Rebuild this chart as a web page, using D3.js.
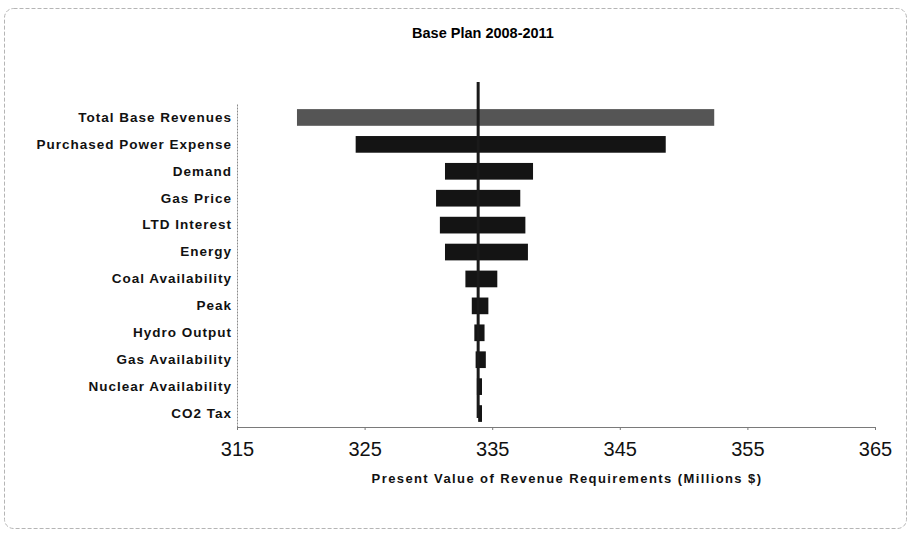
<!DOCTYPE html>
<html>
<head>
<meta charset="utf-8">
<script src="https://cdn.jsdelivr.net/npm/d3@7/dist/d3.min.js"></script>
<style>
  html, body { margin: 0; padding: 0; background: #fff; }
  svg { display: block; font-family: "Liberation Sans", Arial, sans-serif; }
</style>
</head>
<body>
<svg id="chart" width="910" height="535"></svg>
<script>
// Sensitivity factors, ordered from largest swing to smallest
const categories = [
  "Total Base Revenues", "Purchased Power Expense", "Demand", "Gas Price",
  "LTD Interest", "Energy", "Coal Availability", "Peak", "Hydro Output",
  "Gas Availability", "Nuclear Availability", "CO2 Tax"
];
// Present value of revenue requirements (millions $) at the low and high ends of each factor
const lowValues  = [319.7, 324.3, 331.3, 330.6, 330.9, 331.3, 332.9, 333.4, 333.6, 333.7, 333.8, 333.9];
const highValues = [352.4, 348.6, 338.2, 337.2, 337.6, 337.8, 335.4, 334.7, 334.4, 334.5, 334.2, 334.2];
const baseValue = 333.9;
const xTicks = [315, 325, 335, 345, 355, 365];

const rows = categories.map((c, i) => ({ name: c, low: lowValues[i], high: highValues[i] }));

const svg = d3.select("#chart");

// Chart-area frame
svg.append("rect")
  .attr("x", 4.5).attr("y", 8.5)
  .attr("width", 902).attr("height", 520)
  .attr("rx", 9)
  .attr("fill", "none")
  .attr("stroke", "#b5b5b5")
  .attr("stroke-dasharray", "4,2")
  .attr("stroke-width", 1);

const plot = { left: 237, right: 875, top: 104, bottom: 427 };

const x = d3.scaleLinear().domain([315, 365]).range([plot.left, plot.right]);
const y = d3.scaleBand().domain(categories).range([plot.top, plot.bottom]).paddingInner(0.38).paddingOuter(0.19);

// Title
svg.append("text")
  .attr("x", 483).attr("y", 38)
  .attr("text-anchor", "middle")
  .attr("font-size", 14.5).attr("font-weight", "bold")
  .text("Base Plan 2008-2011");

// Bars
svg.append("g").selectAll("rect")
  .data(rows)
  .join("rect")
  .attr("x", d => x(d.low))
  .attr("y", d => y(d.name))
  .attr("width", d => x(d.high) - x(d.low))
  .attr("height", y.bandwidth())
  .attr("fill", (d, i) => i === 0 ? "#555555" : "#141414");

// Base-case line
svg.append("line")
  .attr("x1", x(baseValue)).attr("x2", x(baseValue))
  .attr("y1", 82).attr("y2", 418)
  .attr("stroke", "#1a1a1a")
  .attr("stroke-width", 3);

// Category axis
const yAxis = svg.append("g")
  .attr("transform", `translate(${plot.left},0)`)
  .call(d3.axisLeft(y).tickSize(0).tickPadding(5));
yAxis.select(".domain").attr("stroke", "#8a8a8a").attr("stroke-dasharray", "2,1");
yAxis.selectAll("text")
  .attr("font-size", 13.5).attr("font-weight", "bold")
  .attr("letter-spacing", 1.0)
  .attr("fill", "#111")
  .attr("font-family", "'Liberation Sans', Arial, sans-serif");

// Value axis
const xAxis = svg.append("g")
  .attr("transform", `translate(0,${plot.bottom})`)
  .call(d3.axisBottom(x).tickValues(xTicks).tickSize(3).tickPadding(12).tickSizeOuter(0));
xAxis.select(".domain").attr("stroke", "#7a7a7a");
xAxis.selectAll(".tick line").attr("stroke", "#7a7a7a");
xAxis.selectAll("text")
  .attr("font-size", 20)
  .attr("fill", "#111")
  .attr("font-family", "'Liberation Sans', Arial, sans-serif");

// Axis title
svg.append("text")
  .attr("x", 567).attr("y", 483)
  .attr("text-anchor", "middle")
  .attr("font-size", 13).attr("font-weight", "bold")
  .attr("letter-spacing", 1.4)
  .attr("fill", "#111")
  .text("Present Value of Revenue Requirements (Millions $)");
</script>
</body>
</html>
